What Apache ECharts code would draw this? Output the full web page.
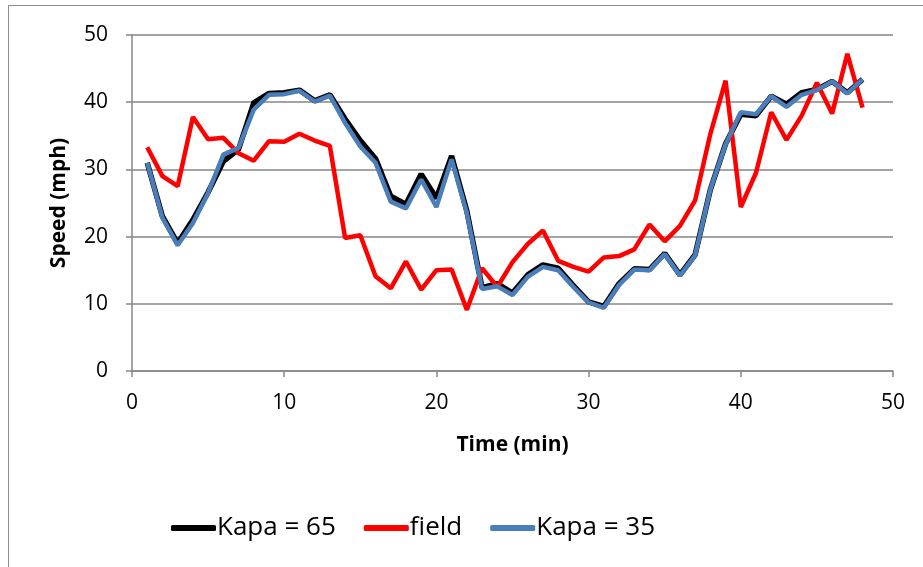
<!DOCTYPE html>
<html><head><meta charset="utf-8">
<script src="https://cdn.jsdelivr.net/npm/echarts@6/dist/echarts.min.js"></script>
<style>html,body{margin:0;padding:0;background:#fff;}#frame{position:absolute;left:8px;top:5px;width:930px;height:580px;border:1px solid #8c8c8c;box-sizing:border-box;}#c{position:absolute;left:0;top:0;width:923px;height:567px;}</style>
</head><body>
<div id="frame"></div>
<div id="c"></div>
<script>
const time = [1,2,3,4,5,6,7,8,9,10,11,12,13,14,15,16,17,18,19,20,21,22,23,24,25,26,27,28,29,30,31,32,33,34,35,36,37,38,39,40,41,42,43,44,45,46,47,48];
const kapa65 = [31,23,19,22.5,26.6,31.2,33,39.9,41.3,41.4,41.8,40.2,41.1,37.5,34.3,31.6,26,24.8,29.3,25.7,32,23.8,12.4,13,11.6,14.3,15.8,15.3,12.7,10.3,9.6,13,15.2,15.1,17.5,14.3,17.3,27,33.8,38.2,38,40.9,39.7,41.4,41.9,43.1,41.4,43.4];
const field = [33.3,29,27.5,37.8,34.5,34.7,32.4,31.3,34.2,34.1,35.3,34.3,33.5,19.8,20.2,14.1,12.3,16.3,12.1,15,15.1,9.1,15.3,12.5,16.2,18.9,20.9,16.4,15.5,14.8,16.9,17.1,18.1,21.8,19.3,21.6,25.4,35.3,43.2,24.4,29.5,38.5,34.4,38,42.9,38.3,47.2,39.2];
const kapa35 = [31,22.8,18.7,22,26.5,32.2,33.2,38.9,41.1,41.2,41.7,40.1,41,36.9,33.4,31,25.2,24.2,28.5,24.4,31.5,23.5,12.2,12.6,11.3,14,15.5,15,12.5,10.2,9.4,12.8,15.1,15,17.4,14.2,17.2,27,33.7,38.5,38.2,40.9,39.3,41.1,41.8,43.1,41.3,43.4];
const legendNames = ['Kapa = 65','field','Kapa = 35'];

const pair = (ys) => time.map((t,i)=>[t, ys[i]]);
const chart = echarts.init(document.getElementById('c'));
const axisCol = '#868686';
const fontFam = '"Open Sans", "Noto Sans", sans-serif';
chart.setOption({
  animation:false,
  grid:{left:132,right:30,top:35,bottom:196},
  xAxis:{type:'value',min:0,max:50,interval:10,
    name:'Time (min)',nameLocation:'middle',nameGap:64,
    nameTextStyle:{fontFamily:fontFam,fontWeight:'bold',fontSize:21,color:'#000'},
    axisLine:{show:true,onZero:false,lineStyle:{color:axisCol,width:1.5}},
    axisTick:{show:true,length:6,lineStyle:{color:axisCol,width:1.5}},
    axisLabel:{fontFamily:fontFam,fontSize:21,color:'#000',margin:22},
    splitLine:{show:false}},
  yAxis:{type:'value',min:0,max:50,interval:10,
    name:'Speed (mph)',nameLocation:'middle',nameGap:62,
    nameTextStyle:{fontFamily:fontFam,fontWeight:'bold',fontSize:21,color:'#000'},
    axisLine:{show:true,lineStyle:{color:axisCol,width:1.5}},
    axisTick:{show:true,length:6,lineStyle:{color:axisCol,width:1.5}},
    axisLabel:{fontFamily:fontFam,fontSize:21,color:'#000',margin:24},
    splitLine:{show:true,lineStyle:{color:axisCol,width:1.5}}},
  legend:{bottom:21,left:166,itemWidth:45,itemHeight:6,itemGap:28,
    icon:'roundRect',
    textStyle:{fontFamily:fontFam,fontSize:26,color:'#000',padding:[0,0,0,-4]},
    data:legendNames},
  series:[
    {name:legendNames[0],type:'line',data:pair(kapa65),showSymbol:false,symbol:'none',lineStyle:{color:'#000',width:5.5},itemStyle:{color:'#000'},z:2},
    {name:legendNames[1],type:'line',data:pair(field),showSymbol:false,symbol:'none',lineStyle:{color:'#ff0000',width:4.5},itemStyle:{color:'#ff0000'},z:3},
    {name:legendNames[2],type:'line',data:pair(kapa35),showSymbol:false,symbol:'none',lineStyle:{color:'#4a7ebb',width:4.5},itemStyle:{color:'#4a7ebb'},z:4}
  ]
});
</script>
</body></html>
